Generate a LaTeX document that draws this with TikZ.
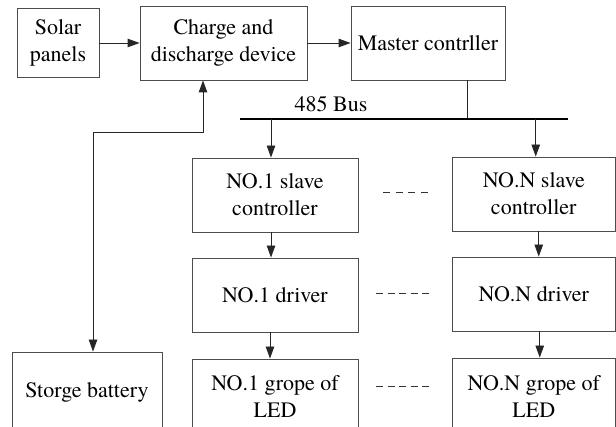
\documentclass[tikz,border=0pt]{standalone}
\usepackage{fontspec}
\setmainfont{texgyretermes}[Extension=.otf, UprightFont=*-regular, BoldFont=*-bold, ItalicFont=*-italic, BoldItalicFont=*-bolditalic]
\usetikzlibrary{arrows.meta,calc}
\begin{document}
\begin{tikzpicture}[x=1pt,y=-1pt,
  box/.style={draw=black!70, line width=0.9pt, rectangle, inner sep=0pt, align=center,
    font=\rmfamily\fontsize{22}{27}\selectfont},
  lbl/.style={inner sep=0pt, font=\rmfamily\fontsize{22}{27}\selectfont},
  tipA/.tip={Triangle[length=12pt,width=8.5pt]},
  arr/.style={draw=black!85, line width=0.9pt, -tipA},
  darr/.style={draw=black!85, line width=0.9pt, tipA-tipA},
  ln/.style={draw=black!85, line width=0.9pt},
  busline/.style={draw=black, line width=1.4pt},
  dshA/.style={draw=black!80, line width=0.9pt, dash pattern=on 7pt off 5.7pt},
  dshB/.style={draw=black!80, line width=0.9pt, dash pattern=on 7pt off 4.5pt}]
\useasboundingbox (0,0) rectangle (616,427);
\clip (0,0) rectangle (616,427);
\fill[white] (0,0) rectangle (616,427);

\node[box, minimum width=82pt, minimum height=69pt] (solar) at (58,42.5) {Solar\\panels};
\node[box, minimum width=167pt, minimum height=74pt] (charge) at (223.5,43) {Charge and\\discharge device};
\node[box, minimum width=154pt, minimum height=74pt] (master) at (428,43) {Master contrller};

\node[box, minimum width=166pt, minimum height=74pt] (slave1) at (275,195) {NO.1 slave\\controller};
\node[box, minimum width=163.5pt, minimum height=74pt] (slaveN) at (533.75,194) {NO.N slave\\controller};
\node[box, minimum width=166pt, minimum height=74pt] (drv1) at (275,295) {NO.1 driver};
\node[box, minimum width=163.5pt, minimum height=74pt] (drvN) at (533.75,294) {NO.N driver};
\node[box, minimum width=166pt, minimum height=75pt] (led1) at (275,396.5) {NO.1 grope of\\LED};
\node[box, minimum width=163.5pt, minimum height=76pt] (ledN) at (533.75,396) {NO.N grope of\\LED};
\node[box, minimum width=150pt, minimum height=80pt] (bat) at (87,392) {Storge battery};

\coordinate (busL) at (240,119);
\coordinate (busR) at (568,119);
\node[lbl, anchor=base] (buslbl) at (331,112) {485 Bus};

% top row
\draw[arr] (solar.east |- charge.west) -- (charge.west);
\draw[arr] (charge.east) -- (master.west);
\draw[ln] ([xshift=39pt]master.south) -- ([xshift=39pt]master.south |- busL);
\draw[busline] (busL) -- (busR);

% bus to slaves
\draw[arr] ([xshift=-4pt]slave1.north |- busL) -- ([xshift=-4pt]slave1.north);
\draw[arr] ([xshift=2pt]slaveN.north |- busL) -- ([xshift=2pt]slaveN.north);

% chains
\draw[arr] ([xshift=-4pt]slave1.south) -- ([xshift=-4pt]drv1.north);
\draw[arr] ([xshift=-5pt]drv1.south) -- ([xshift=-5pt]led1.north);
\draw[arr] ([xshift=5pt]slaveN.south) -- ([xshift=5pt]drvN.north);
\draw[arr] ([xshift=6pt]drvN.south) -- ([xshift=6pt]ledN.north);

% battery link
\draw[darr] ([xshift=-20.5pt]charge.south) -- ++(0,52) -| ([xshift=6pt]bat.north);

% dashes between columns
\coordinate (d1a) at (383,192); \coordinate (d1b) at (428,192);
\coordinate (d2a) at (376,293); \coordinate (d2b) at (430,293);
\coordinate (d3a) at (376,386); \coordinate (d3b) at (430,386);
\draw[dshA] (d1a) -- (d1b);
\draw[dshB] (d2a) -- (d2b);
\draw[dshB] (d3a) -- (d3b);
\end{tikzpicture}
\end{document}
